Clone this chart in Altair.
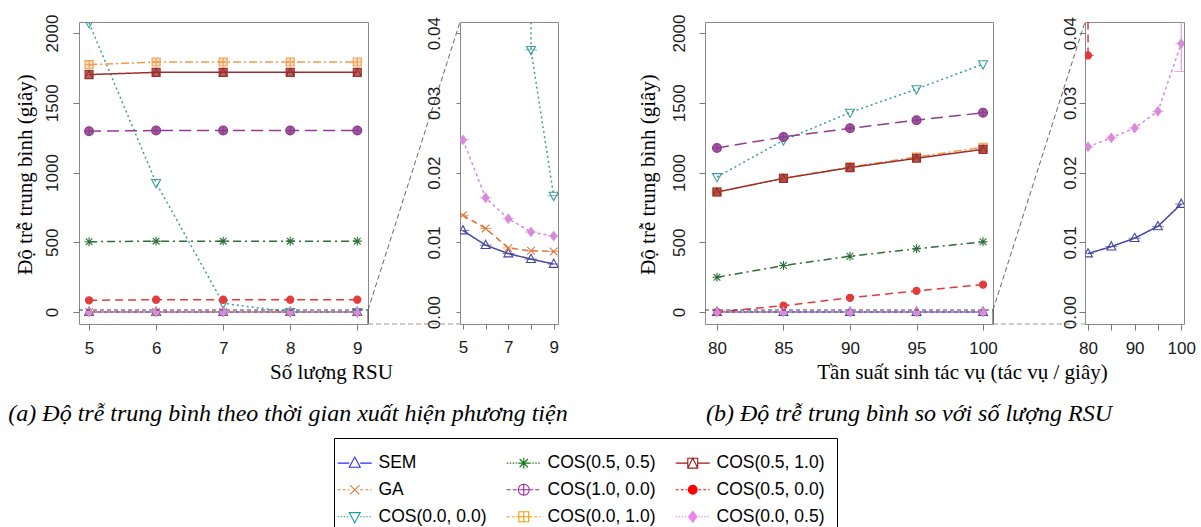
import altair as alt
import pandas as pd

SERIES = ["SEM", "GA", "COS(0.0, 0.0)", "COS(0.5, 0.5)", "COS(1.0, 0.0)",
          "COS(0.0, 1.0)", "COS(0.5, 1.0)", "COS(0.5, 0.0)", "COS(0.0, 0.5)"]

# ---- panel (a): x = number of RSU ----
rsu_counts = [5, 6, 7, 8, 9]
a_sem = [0.0117, 0.0096, 0.0084, 0.0076, 0.0069]
a_ga = [0.0139, 0.0120, 0.0092, 0.0088, 0.0087]
a_cos00 = [2072, 926, 62, 0.0376, 0.0167]
a_cos55 = [504, 508, 508, 508, 508]
a_cos10 = [1296, 1301, 1301, 1301, 1301]
a_cos01 = [1773, 1792, 1792, 1792, 1792]
a_cos51 = [1702, 1718, 1718, 1718, 1718]
a_cos50 = [84, 88, 88, 88, 88]
a_cos005 = [0.0247, 0.0164, 0.0134, 0.0115, 0.0109]

# ---- panel (b): x = task generation rate ----
task_rates = [80, 85, 90, 95, 100]
b_sem = [0.0084, 0.0094, 0.0106, 0.0123, 0.0155]
b_cos00 = [968, 1231, 1430, 1598, 1777]
b_cos55 = [249, 333, 400, 453, 503]
b_cos10 = [1176, 1255, 1317, 1375, 1428]
b_cos01 = [860, 958, 1040, 1111, 1181]
b_cos51 = [860, 958, 1035, 1102, 1166]
b_cos50 = [0.0368, 45, 102, 151, 196]
b_cos005 = [0.0237, 0.0250, 0.0264, 0.0288, 0.0385]

# visible error bar of COS(0.0, 0.5) at rate 100 (inset b)
b_err_x = [100]
b_err_lo = [0.0345]
b_err_hi = [0.0430]

y_main_ticks = [0, 500, 1000, 1500, 2000]
y_zoom_ticks = [0.0, 0.01, 0.02, 0.03, 0.04]

Y_TITLE = "Độ trễ trung bình (giây)"
XA_TITLE = "Số lượng RSU"
XB_TITLE = "Tần suất sinh tác vụ (tác vụ / giây)"
CAP_A = "(a) Độ trễ trung bình theo thời gian xuất hiện phương tiện"
CAP_B = "(b) Độ trễ trung bình so với số lượng RSU"

# ---- styles ----
PLOT_COLORS = ["#4646a2", "#e0783c", "#3c9c9c", "#2d6e3c", "#8e3c8e",
               "#f29b4a", "#9b2d2d", "#e33b3b", "#d98ad9"]
LEG_COLORS = ["#2a2aff", "#e07840", "#1aa0a0", "#1a7a1a", "#a020a0",
              "#ff9900", "#a01818", "#ff0000", "#ee82ee"]
PLOT_DASHES = [[1, 0], [6, 4], [2, 3], [8, 4, 2, 4], [12, 6],
               [8, 3, 2, 3], [1, 0], [8, 5], [3, 3]]
LEG_DASHES = [None, [3, 2], [1.5, 1.5], [1.5, 1.5], [4, 2],
              [3, 2], None, [3, 2], [1.5, 1.5]]

CIRC = "M-1,0A1,1,0,1,0,1,0A1,1,0,1,0,-1,0Z"
MARKERS = [
    "M0,-1.1L1,0.75L-1,0.75Z",                                   # triangle up
    "M-0.85,-0.85L0.85,0.85M-0.85,0.85L0.85,-0.85",               # x
    "M-1,-0.75L1,-0.75L0,1.1Z",                                   # triangle down
    "M-1,0H1M0,-1V1M-0.75,-0.75L0.75,0.75M-0.75,0.75L0.75,-0.75",  # asterisk
    CIRC + "M-1,0H1M0,-1V1",                                      # circle plus
    "M-0.9,-0.9H0.9V0.9H-0.9ZM-0.9,0H0.9M0,-0.9V0.9",             # square plus
    "M-0.9,-0.9H0.9V0.9H-0.9ZM-0.9,0.9L0,-0.9L0.9,0.9",           # square + triangle
    "M-0.8,0A0.8,0.8,0,1,0,0.8,0A0.8,0.8,0,1,0,-0.8,0Z",          # filled circle
    "M0,-1L0.75,0L0,1L-0.75,0Z",                                  # filled diamond
]
FILLED = [False, False, False, False, False, False, False, True, True]
PLOT_FILLS = ["transparent", "transparent", "transparent", "transparent",
              "rgba(142,60,142,0.85)", "rgba(242,155,74,0.3)", "rgba(155,45,45,0.75)",
              PLOT_COLORS[7], PLOT_COLORS[8]]


def legend_symbol(marker, dash, unit=5.5, reach=3.1, gap=1.0):
    segs = []
    for a, b in [(-reach, -gap), (gap, reach)]:
        if dash is None:
            segs.append(f"M{a:.3f},0H{b:.3f}")
        else:
            on, off = dash[0] / unit, dash[1] / unit
            x = a
            while x < b - 1e-6:
                e = min(x + on, b)
                segs.append(f"M{x:.3f},0H{e:.3f}")
                x = e + off
    return "".join(segs) + marker


def long_frame(xs, cols):
    rows = []
    for name, ys in cols.items():
        for x, y in zip(xs, ys):
            rows.append({"series": name, "x": x, "y": y})
    return pd.DataFrame(rows)


df_a = long_frame(rsu_counts, {
    "SEM": a_sem, "GA": a_ga, "COS(0.0, 0.0)": a_cos00, "COS(0.5, 0.5)": a_cos55,
    "COS(1.0, 0.0)": a_cos10, "COS(0.0, 1.0)": a_cos01, "COS(0.5, 1.0)": a_cos51,
    "COS(0.5, 0.0)": a_cos50, "COS(0.0, 0.5)": a_cos005})
df_b = long_frame(task_rates, {
    "SEM": b_sem, "COS(0.0, 0.0)": b_cos00, "COS(0.5, 0.5)": b_cos55,
    "COS(1.0, 0.0)": b_cos10, "COS(0.0, 1.0)": b_cos01, "COS(0.5, 1.0)": b_cos51,
    "COS(0.5, 0.0)": b_cos50, "COS(0.0, 0.5)": b_cos005})
df_err = pd.DataFrame({"x": b_err_x, "y": b_err_lo, "y2": b_err_hi})
one = pd.DataFrame({"k": [0]})

H = 302
GAP = 92
SERIF = "Liberation Serif"
FRAME = alt.ViewBackground(stroke="#8a8a8a", strokeWidth=1)
NOFRAME = alt.ViewBackground(stroke="transparent")


def y_axis(values, fmt, pad, title=None, title_x=-54, tick=6):
    kw = dict(values=values, format=fmt, labelAngle=270, labelAlign="center",
              labelBaseline="bottom", labelPadding=pad, tickSize=tick)
    if title:
        kw.update(title=title, titleX=title_x, titleY=152, titleAngle=270, titleAlign="center",
                  titleBaseline="middle", titleFont=SERIF, titleFontSize=21,
                  titleFontWeight="normal", titleColor="black")
    else:
        kw["title"] = ""
    return alt.Axis(**kw)


def x_axis(values, expr=None, title=None, title_x=0, tick=6):
    kw = dict(values=values, labelPadding=10, tickSize=tick)
    if expr:
        kw["labelExpr"] = expr
    if title:
        kw.update(title=title, titleX=title_x, titleY=48, titleAlign="center",
                  titleBaseline="middle", titleFont=SERIF, titleFontSize=21,
                  titleFontWeight="normal", titleColor="black")
    else:
        kw["title"] = ""
    return alt.Axis(**kw)


def panel(df, xdom, ydom, w, xaxis, yaxis, caps=False, err=None, main=False, extra=()):
    X = alt.X("x:Q", scale=alt.Scale(domain=xdom, nice=False, zero=False), axis=xaxis)
    Y = alt.Y("y:Q", scale=alt.Scale(domain=ydom, nice=False, zero=False), axis=yaxis)
    stroke = alt.Stroke("series:N", scale=alt.Scale(domain=SERIES, range=PLOT_COLORS), legend=None)
    base = alt.Chart(df)
    line_base = base
    if not main:
        # in a zoomed view, segments joining points far above the view are never visible;
        # leaving those points out keeps the dash pattern of the visible segments intact
        line_base = base.transform_filter("datum.y < 100")
    layers = [line_base.mark_line(clip=True, strokeWidth=1.5).encode(
        x=X, y=Y, stroke=stroke,
        strokeDash=alt.StrokeDash("series:N", scale=alt.Scale(domain=SERIES, range=PLOT_DASHES),
                                  legend=None))]
    if caps:
        layers.append(base.mark_tick(clip=True, orient="horizontal", size=12, thickness=1).encode(
            x=X, y=Y, color=alt.Color("series:N", scale=alt.Scale(domain=SERIES, range=PLOT_COLORS),
                                      legend=None)))
    layers.append(base.mark_point(clip=True, size=80, strokeWidth=1.1, opacity=1).encode(
        x=X, y=Y, stroke=stroke,
        shape=alt.Shape("series:N", scale=alt.Scale(domain=SERIES, range=MARKERS), legend=None),
        fill=alt.Fill("series:N", scale=alt.Scale(domain=SERIES, range=PLOT_FILLS), legend=None)))
    if err is not None:
        eb = alt.Chart(err)
        layers.append(eb.mark_rule(clip=True, color=PLOT_COLORS[8], strokeWidth=1).encode(
            x=X, y=Y, y2="y2:Q"))
        layers.append(eb.mark_tick(clip=True, orient="horizontal", size=14, thickness=1,
                                   color=PLOT_COLORS[8]).encode(x=X, y=Y))
    if main:
        o = alt.Chart(one)
        zt = 288
        layers += [
            o.mark_rule(color="#3c3c55", strokeDash=[4, 3], strokeWidth=1).encode(
                x=alt.value(0), x2=alt.value(w), y=alt.value(zt), y2=alt.value(zt)),
            o.mark_rule(color="#3c3c55", strokeWidth=1).encode(
                x=alt.value(w), x2=alt.value(w), y=alt.value(zt), y2=alt.value(H)),
            o.mark_rule(color="#555555", strokeDash=[5, 3], strokeWidth=0.9).encode(
                x=alt.value(w), x2=alt.value(w + GAP), y=alt.value(zt), y2=alt.value(0)),
            o.mark_rule(color="#9a9a9a", strokeDash=[5, 3], strokeWidth=1).encode(
                x=alt.value(w), x2=alt.value(w + GAP), y=alt.value(H), y2=alt.value(H)),
        ]
    layers += list(extra)
    return alt.layer(*layers).properties(width=w, height=H, view=FRAME)


MAIN_YDOM = [-86, 2079]
ZOOM_YDOM = [-0.0017, 0.0416]

# invisible anchor that pins the page origin 78 px left / 21 px above panel (a)
anchor = alt.Chart(one).mark_rule(strokeOpacity=0).encode(
    x=alt.value(-78), x2=alt.value(-78), y=alt.value(-21), y2=alt.value(-20))

main_a = panel(df_a, [4.85, 9.16], MAIN_YDOM, 289,
               x_axis(rsu_counts, title=XA_TITLE, title_x=252),
               y_axis(y_main_ticks, "d", 12, title=Y_TITLE, title_x=-54),
               main=True, extra=[anchor])

inset_a = panel(df_a, [4.87, 9.19], ZOOM_YDOM, 98,
                x_axis(rsu_counts, expr="datum.value % 2 == 1 ? datum.label : ''", tick=5),
                y_axis(y_zoom_ticks, ".2f", 12.5, tick=4), caps=True)

main_b = panel(df_b, [79.1, 100.75], MAIN_YDOM, 288,
               x_axis(task_rates, title=XB_TITLE, title_x=257),
               y_axis(y_main_ticks, "d", 10.5, title=Y_TITLE, title_x=-57), main=True)

inset_b = panel(df_b, [79.35, 100.6], ZOOM_YDOM, 99,
                x_axis(task_rates, expr="datum.value % 10 == 0 ? datum.label : ''"),
                y_axis(y_zoom_ticks, ".2f", 0), caps=True, err=df_err)


def spacer(w):
    return alt.Chart(one).mark_text(text="").encode(
        x=alt.value(0), y=alt.value(0)).properties(width=w, height=H, view=NOFRAME)


# ---- legend + captions (placed in the spacer between the two figures) ----
# Vega fills the 3-column legend grid column by column, so the series order is kept.
leg_shapes = [legend_symbol(MARKERS[i], LEG_DASHES[i]) for i in range(len(SERIES))]
leg_fills = [c if f else "transparent" for c, f in zip(LEG_COLORS, FILLED)]

MID_X0 = 557   # left edge of the middle spacer on the page
LEG = alt.Legend(orient="none", legendX=333 - MID_X0, legendY=437 - 21, columns=3,
                 gridAlign="all", symbolSize=121, symbolStrokeWidth=1.1,
                 labelFont="Liberation Sans", labelFontSize=17.5, labelColor="black",
                 labelOffset=15, columnPadding=17, rowPadding=8, padding=12,
                 titleFontSize=1, titlePadding=3, strokeColor="black", fillColor="white")

leg_df = pd.DataFrame({"series": SERIES, "v": [0] * len(SERIES)})
leg_chart = alt.Chart(leg_df).mark_point(clip=True, opacity=1).encode(
    x=alt.X("v:Q", scale=alt.Scale(domain=[1, 2]), axis=None),
    y=alt.Y("v:Q", scale=alt.Scale(domain=[1, 2]), axis=None),
    shape=alt.Shape("series:N", scale=alt.Scale(domain=SERIES, range=leg_shapes),
                    title=" ", legend=LEG),
    stroke=alt.Stroke("series:N", scale=alt.Scale(domain=SERIES, range=LEG_COLORS),
                      title=" ", legend=LEG),
    fill=alt.Fill("series:N", scale=alt.Scale(domain=SERIES, range=leg_fills),
                  title=" ", legend=LEG),
)
cap_a = alt.Chart(one).mark_text(text=CAP_A, font=SERIF, fontStyle="italic", fontSize=24,
                                 align="center", baseline="middle", color="black").encode(
    x=alt.value(287 - MID_X0), y=alt.value(413 - 21))
cap_b = alt.Chart(one).mark_text(text=CAP_B, font=SERIF, fontStyle="italic", fontSize=24,
                                 align="center", baseline="middle", color="black").encode(
    x=alt.value(908 - MID_X0), y=alt.value(413 - 21))
middle = alt.layer(leg_chart, cap_a, cap_b).properties(width=147, height=H, view=NOFRAME)

chart = alt.hconcat(
    main_a, spacer(GAP), inset_a, middle, main_b, spacer(GAP), inset_b,
    spacing=0, bounds="flush"
).resolve_scale(
    shape="independent", stroke="independent", fill="independent",
    color="independent", strokeDash="independent"
).properties(padding=0, background="white").configure_axis(
    domain=False, grid=False, tickColor="#7a7a7a", tickWidth=1,
    labelFont="Liberation Sans", labelFontSize=17, labelColor="#1a1a1a",
    labelFlush=False, labelOverlap=False
).configure_view(stroke="transparent")

chart.save("out.html", embed_options={"renderer": "svg", "actions": False})
